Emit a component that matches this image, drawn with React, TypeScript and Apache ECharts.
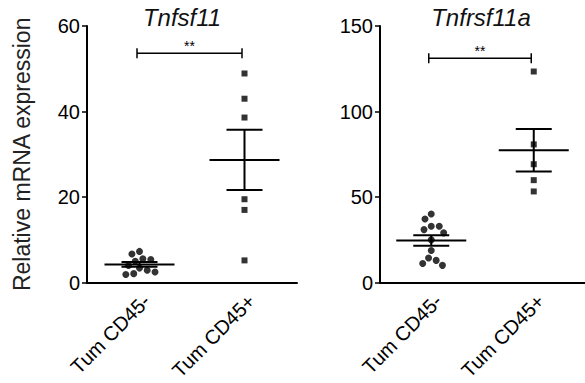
import React, { useEffect, useRef } from "react";
import * as echarts from "echarts";

const categories = ["Tum CD45-", "Tum CD45+"];
const titles = ["Tnfsf11", "Tnfrsf11a"];
const yAxisName = "Relative mRNA expression";

// Tnfsf11
const tnfsf11Neg = [7.3, 6.7, 5.6, 5.4, 5.0, 4.0, 3.4, 2.9, 2.5, 2.1, 1.9];
const tnfsf11Pos = [48.9, 43.0, 38.6, 19.5, 17.0, 5.2];
// Tnfrsf11a
const tnfrsf11aNeg = [40.1, 37.2, 33.0, 33.0, 31.0, 29.1, 25.0, 18.8, 14.4, 13.0, 11.2, 10.1];
const tnfrsf11aPos = [123.4, 80.8, 69.2, 59.9, 53.3];

const yMax = [60, 150];
const yInterval = [20, 50];
const bracketLevels = [53.6, 131.2];
const significance = ["**", "**"];

const FONT = "Liberation Sans, Arial, Helvetica, sans-serif";

function meanSem(arr: number[]) {
  const n = arr.length;
  const m = arr.reduce((a, b) => a + b, 0) / n;
  const v = arr.reduce((a, b) => a + (b - m) * (b - m), 0) / (n - 1);
  return [m, Math.sqrt(v) / Math.sqrt(n)];
}

export default function App() {
  const ref = useRef<HTMLDivElement>(null);
  useEffect(() => {
    document.body.style.margin = "0";
    if (!ref.current) return;
    const chart = echarts.init(ref.current, null, { renderer: "svg" });

    const groups = [
      [tnfsf11Neg, tnfsf11Pos],
      [tnfrsf11aNeg, tnfrsf11aPos],
    ];

    const grids = [
      { left: 87, top: 26, width: 210, height: 258 },
      { left: 380, top: 26, width: 212, height: 258 },
    ];

    const axisLineStyle = { color: "#000", width: 2 };

    const xAxis = grids.map((_, i) => ({
      type: "category",
      gridIndex: i,
      data: categories,
      jitter: 60,
      jitterOverlap: false,
      jitterMargin: 1,
      axisLine: { lineStyle: axisLineStyle },
      axisTick: { alignWithLabel: true, length: 5, lineStyle: { color: "#000", width: 1.5 } },
      axisLabel: {
        rotate: 45,
        interval: 0,
        margin: 8,
        verticalAlign: "top",
        color: "#000",
        fontSize: 20,
        fontFamily: FONT,
      },
    }));

    const yAxis = grids.map((_, i) => ({
      type: "value",
      gridIndex: i,
      min: 0,
      max: yMax[i],
      interval: yInterval[i],
      name: i === 0 ? yAxisName : "",
      nameLocation: "middle",
      nameGap: 54,
      nameTextStyle: { color: "#222", fontSize: 23, fontFamily: FONT },
      splitLine: { show: false },
      axisLine: { show: true, lineStyle: axisLineStyle },
      axisTick: { show: true, length: 5, lineStyle: { color: "#000", width: 1.5 } },
      axisLabel: { color: "#000", fontSize: 20, fontFamily: FONT, margin: 7 },
    }));

    const series: any[] = [];
    groups.forEach((g, i) => {
      series.push({
        type: "scatter",
        xAxisIndex: i,
        yAxisIndex: i,
        symbol: "circle",
        symbolSize: 7,
        itemStyle: { color: "#000" },
        data: g[0].map((v) => [0, v]),
        z: 3,
      });
      series.push({
        type: "scatter",
        xAxisIndex: i,
        yAxisIndex: i,
        symbol: "rect",
        symbolSize: 6,
        itemStyle: { color: "#000" },
        data: g[1].map((v) => [1, v]),
        z: 3,
      });
      const stats = g.map((arr, k) => {
        const [m, s] = meanSem(arr);
        return [k, m, s];
      });
      series.push({
        type: "custom",
        xAxisIndex: i,
        yAxisIndex: i,
        data: stats,
        z: 4,
        renderItem: (params: any, api: any) => {
          const c = api.value(0);
          const m = api.value(1);
          const s = api.value(2);
          const pm = api.coord([c, m]);
          const pt = api.coord([c, m + s]);
          const pb = api.coord([c, m - s]);
          const st = { stroke: "#000", lineWidth: 2 };
          return {
            type: "group",
            children: [
              { type: "line", shape: { x1: pm[0] - 35, y1: pm[1], x2: pm[0] + 35, y2: pm[1] }, style: st },
              { type: "line", shape: { x1: pt[0], y1: pt[1], x2: pb[0], y2: pb[1] }, style: st },
              { type: "line", shape: { x1: pt[0] - 18, y1: pt[1], x2: pt[0] + 18, y2: pt[1] }, style: st },
              { type: "line", shape: { x1: pb[0] - 18, y1: pb[1], x2: pb[0] + 18, y2: pb[1] }, style: st },
            ],
          };
        },
      });
      series.push({
        type: "custom",
        xAxisIndex: i,
        yAxisIndex: i,
        data: [[0, 1, bracketLevels[i]]],
        z: 4,
        renderItem: (params: any, api: any) => {
          const lvl = api.value(2);
          const p0 = api.coord([api.value(0), lvl]);
          const p1 = api.coord([api.value(1), lvl]);
          const x0 = p0[0] - 2.5;
          const x1 = p1[0] - 2.5;
          const st = { stroke: "#000", lineWidth: 1.5 };
          return {
            type: "group",
            children: [
              { type: "line", shape: { x1: x0, y1: p0[1], x2: x1, y2: p1[1] }, style: st },
              { type: "line", shape: { x1: x0, y1: p0[1] - 5, x2: x0, y2: p0[1] + 5 }, style: st },
              { type: "line", shape: { x1: x1, y1: p1[1] - 5, x2: x1, y2: p1[1] + 5 }, style: st },
              {
                type: "text",
                style: {
                  text: significance[i],
                  x: (x0 + x1) / 2,
                  y: p0[1],
                  align: "center",
                  verticalAlign: "bottom",
                  fontSize: 14,
                  fontFamily: FONT,
                  fill: "#000",
                },
              },
            ],
          };
        },
      });
    });

    const titleStyle = { fontSize: 24, fontStyle: "italic", fontWeight: "normal", color: "#111", fontFamily: FONT };
    chart.setOption({
      animation: false,
      backgroundColor: "#fff",
      title: [
        { text: titles[0], left: 177, top: 0, textAlign: "center", textStyle: titleStyle },
        { text: titles[1], left: 476, top: 0, textAlign: "center", textStyle: titleStyle },
      ],
      grid: grids,
      xAxis,
      yAxis,
      series,
    });
    return () => chart.dispose();
  }, []);
  return <div ref={ref} style={{ width: 585, height: 383 }} />;
}
